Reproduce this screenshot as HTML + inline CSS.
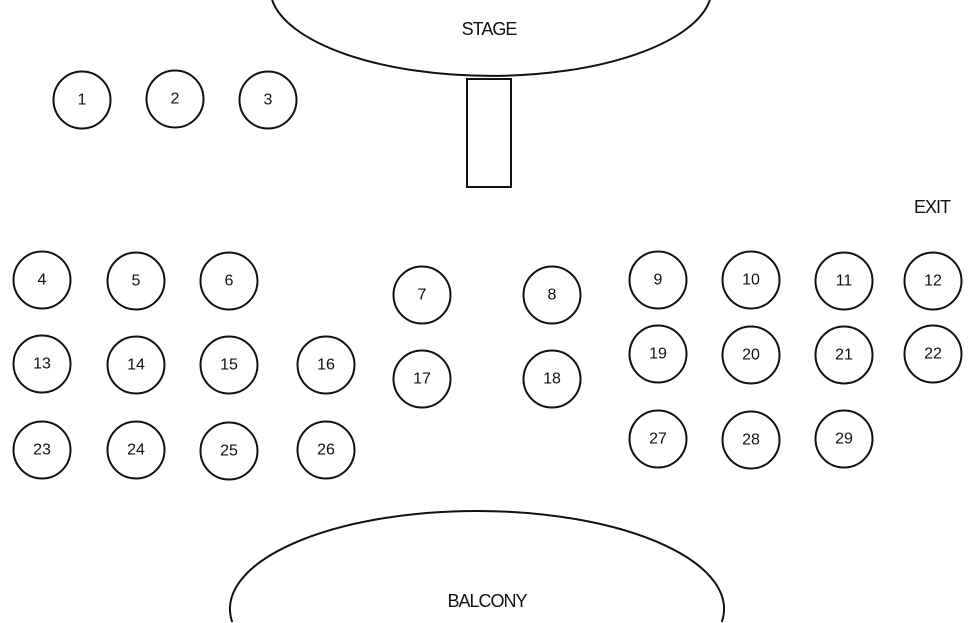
<!DOCTYPE html>
<html>
<head>
<meta charset="utf-8">
<style>
html,body{margin:0;padding:0;background:#fff;width:978px;height:623px;overflow:hidden;}
svg{display:block;overflow:hidden;}
text{font-family:"Liberation Sans",sans-serif;fill:#111;text-anchor:middle;dominant-baseline:central;}
</style>
</head>
<body>
<svg id="chart" width="978" height="623" viewBox="0 0 978 623">
  <path d="M272.1,0 A221,88 0 0 0 709.9,0" fill="#fff" stroke="#111" stroke-width="2"/>
  <text x="489" y="29" font-size="18" letter-spacing="-1">STAGE</text>
  <rect x="467" y="79" width="44" height="108" fill="#fff" stroke="#111" stroke-width="2"/>
  <text x="932" y="207" font-size="18" letter-spacing="-1">EXIT</text>
  <path d="M232.2,622 A247,98 0 1 1 721.8,622" fill="#fff" stroke="#111" stroke-width="2"/>
  <text x="487" y="601" font-size="18" letter-spacing="-1">BALCONY</text>
  <g id="tables"></g>
</svg>
<script>
const tableNumbers = [1,2,3,4,5,6,7,8,9,10,11,12,13,14,15,16,17,18,19,20,21,22,23,24,25,26,27,28,29];
const tableX = [82,175,268,42,136,229,422,552,658,751,844,933,42,136,229,326,422,552,658,751,844,933,42,136,229,326,658,751,844];
const tableY = [100,99,100,280,281,281,295,295,280,280,281,281,364,365,365,365,379,379,354,355,355,354,450,450,451,450,439,440,439];
const g = document.getElementById('tables');
const NS = 'http://www.w3.org/2000/svg';
tableNumbers.forEach((n,i)=>{
  const grp = document.createElementNS(NS,'g');
  
  
  const c = document.createElementNS(NS,'circle');
  c.setAttribute('cx', tableX[i]); c.setAttribute('cy', tableY[i]); c.setAttribute('r', 28.5);
  c.setAttribute('fill','#fff'); c.setAttribute('stroke','#111'); c.setAttribute('stroke-width','2');
  
  
  const t = document.createElementNS(NS,'text');
  t.setAttribute('x', tableX[i]); t.setAttribute('y', tableY[i]); t.setAttribute('font-size','16');
  t.textContent = n;
  
  
  grp.appendChild(c); grp.appendChild(t); g.appendChild(grp);
});
</script>
</body>
</html>
